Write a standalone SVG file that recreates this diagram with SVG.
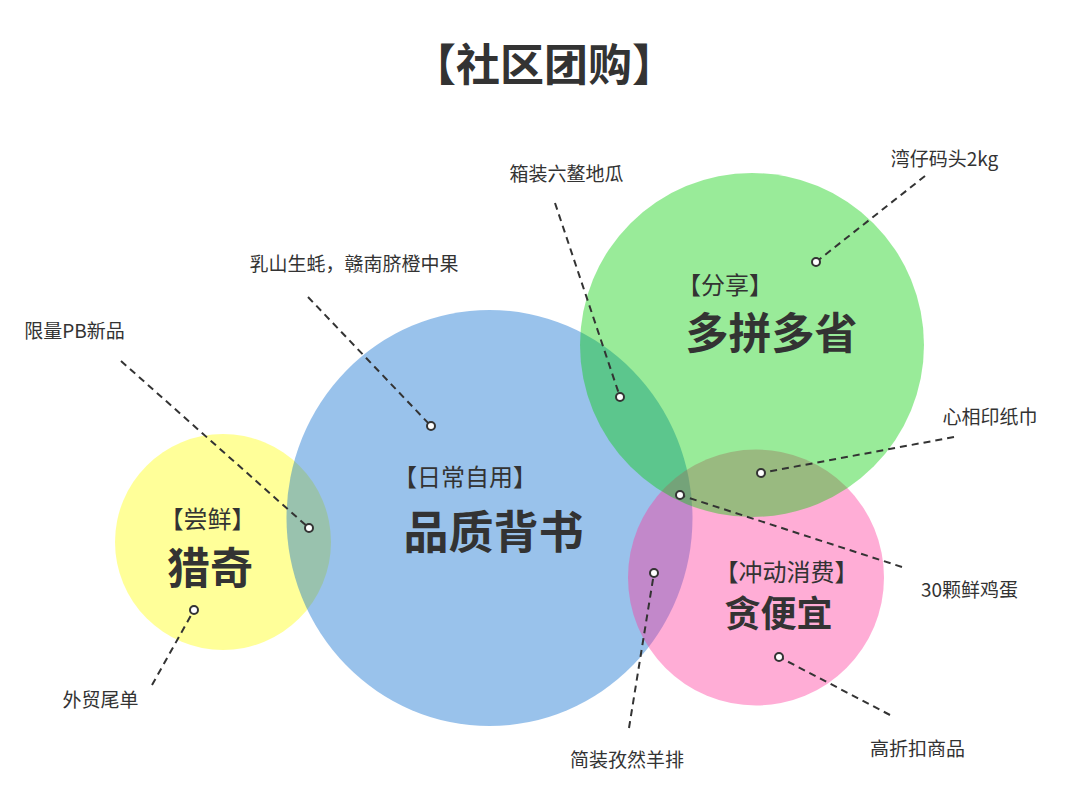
<svg xmlns="http://www.w3.org/2000/svg" width="1080" height="811" viewBox="0 0 1080 811">
<style>
text{font-family:"Noto Sans CJK SC","Noto Sans",sans-serif;fill:#333;text-anchor:middle}
.title{font-size:44px;font-weight:700}
.sub{font-size:24px}
.big{font-size:44px;font-weight:700}
.lbl{font-size:19px}
.c{opacity:0.4}
.con line{stroke:#333;stroke-width:2;stroke-dasharray:7 5;fill:none}
.con circle{fill:#fff;stroke:#333;stroke-width:2}
</style>
<rect width="1080" height="811" fill="#fff"/>
<text class="title" x="544" y="81">【社区团购】</text>
<g id="node-changxian">
<circle class="c" cx="223" cy="542" r="108" fill="#FFFF00"/>
</g>
<g id="node-richang">
<ellipse class="c" cx="489.5" cy="518" rx="203" ry="208" fill="#0066CC"/>
</g>
<g id="node-chongdong">
<circle class="c" cx="756" cy="577.5" r="128" fill="#FF3399"/>
</g>
<g id="node-fenxiang">
<circle class="c" cx="752" cy="345" r="172" fill="#00CC00"/>
</g>
<g id="node-texts">
<text class="sub" x="207.5" y="528">【尝鲜】</text>
<text class="big" x="210" y="584" style="font-size:43px">猎奇</text>
<text class="sub" x="465" y="486">【日常自用】</text>
<text class="big" x="493.5" y="549" style="font-size:45px">品质背书</text>
<text class="sub" x="725" y="294">【分享】</text>
<text class="big" x="771.5" y="349" style="font-size:43px">多拼多省</text>
<text class="sub" x="786.5" y="581">【冲动消费】</text>
<text class="big" x="778.5" y="627" style="font-size:36px">贪便宜</text>
</g>
<g id="connectors" class="con">
<line x1="925" y1="176" x2="816" y2="262"/>
<line x1="555" y1="203" x2="620" y2="397"/>
<line x1="308" y1="297" x2="431" y2="426"/>
<line x1="121" y1="361" x2="309" y2="528"/>
<line x1="954" y1="437" x2="761" y2="473"/>
<line x1="902" y1="567" x2="680" y2="495"/>
<line x1="152" y1="685" x2="194" y2="610"/>
<line x1="629" y1="728" x2="654" y2="573"/>
<line x1="890" y1="715" x2="779" y2="657"/>
<circle cx="816" cy="262" r="4"/>
<circle cx="620" cy="397" r="4"/>
<circle cx="431" cy="426" r="4"/>
<circle cx="309" cy="528" r="4"/>
<circle cx="761" cy="473" r="4"/>
<circle cx="680" cy="495" r="4"/>
<circle cx="194" cy="610" r="4"/>
<circle cx="654" cy="573" r="4"/>
<circle cx="779" cy="657" r="4"/>
</g>
<g id="label-wanzai"><text class="lbl" x="944.5" y="166">湾仔码头2kg</text></g>
<g id="label-xiangzhuang"><text class="lbl" x="566.5" y="181">箱装六鳌地瓜</text></g>
<g id="label-rushan"><text class="lbl" x="354" y="271">乳山生蚝，赣南脐橙中果</text></g>
<g id="label-xianliang"><text class="lbl" x="74.5" y="338">限量PB新品</text></g>
<g id="label-xinxiangyin"><text class="lbl" x="990" y="424">心相印纸巾</text></g>
<g id="label-jidan"><text class="lbl" x="969.5" y="597">30颗鲜鸡蛋</text></g>
<g id="label-waimao"><text class="lbl" x="100.5" y="707">外贸尾单</text></g>
<g id="label-jianzhuang"><text class="lbl" x="627" y="767">简装孜然羊排</text></g>
<g id="label-gaozhekou"><text class="lbl" x="917.5" y="756">高折扣商品</text></g>
</svg>
